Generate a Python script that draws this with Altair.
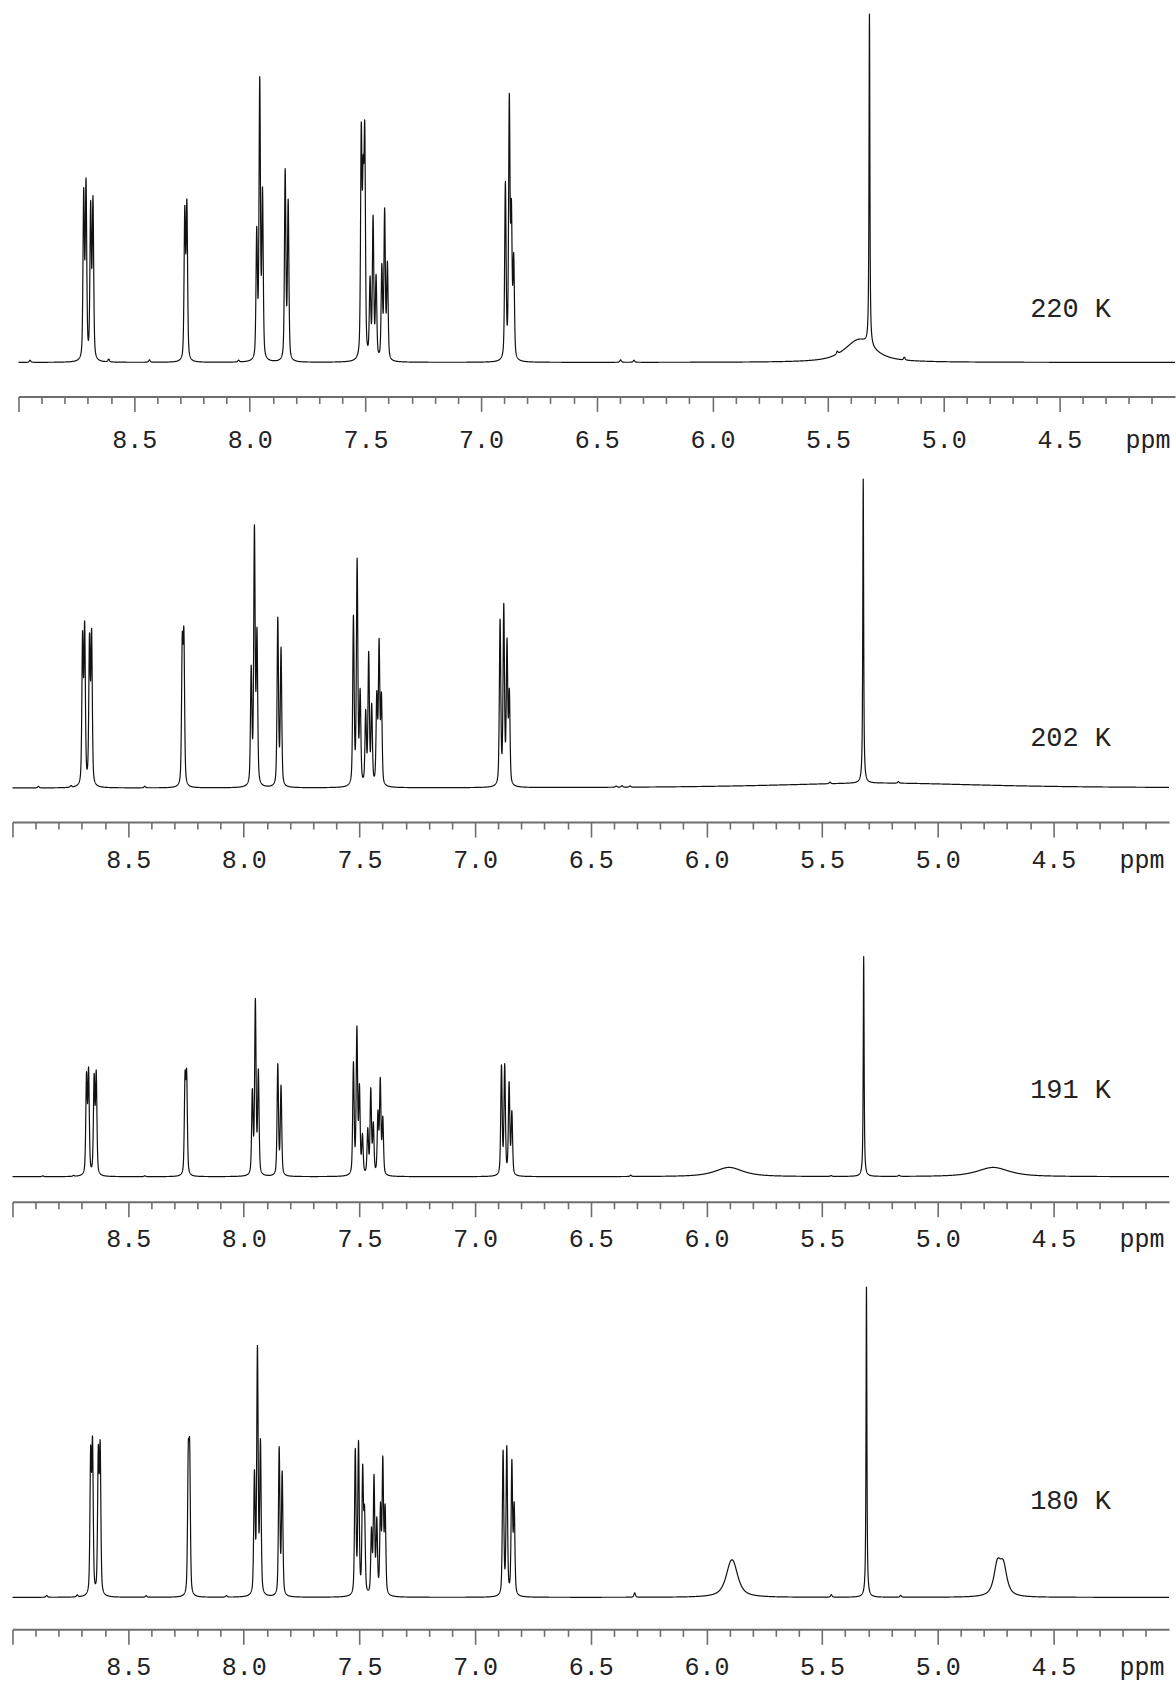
import altair as alt
import numpy as np
import pandas as pd

alt.data_transformers.disable_max_rows()

# ---------------------------------------------------------------------------
# Variable-temperature 1H NMR (CD2Cl2), 9.0 - 4.0 ppm window
# Intensities are relative to the tallest line, the residual CHDCl2 signal (= 100).
# ---------------------------------------------------------------------------
TEMPS = ["220 K", "202 K", "191 K", "180 K"]

# aromatic multiplet lines
arom_ppm_220 = [8.718, 8.708, 8.688, 8.678, 8.281, 8.272, 7.970, 7.957, 7.945, 7.847, 7.834,
                7.518, 7.510, 7.503, 7.480, 7.467, 7.454, 7.429, 7.417, 7.405,
                6.895, 6.878, 6.869, 6.859]
arom_int_220 = [47, 49.5, 43, 45, 42, 44, 36, 79, 47, 54, 45,
                63, 45, 61, 22, 40, 23, 26, 42, 27,
                50, 73, 40, 28]

arom_ppm_202 = [8.697, 8.688, 8.667, 8.658, 8.266, 8.259, 7.968, 7.954, 7.943, 7.853, 7.839,
                7.526, 7.510, 7.497, 7.473, 7.460, 7.447, 7.425, 7.415, 7.405,
                6.892, 6.876, 6.862, 6.852]
arom_int_202 = [47, 50, 46, 48, 44, 46, 37, 82, 48, 54, 44,
                54, 72, 29, 23, 42, 25, 28, 45, 28,
                53, 57, 45, 29]

arom_ppm_191 = [8.680, 8.671, 8.647, 8.638, 8.254, 8.247, 7.963, 7.950, 7.937, 7.853, 7.839,
                7.526, 7.511, 7.500, 7.487, 7.464, 7.451, 7.440, 7.420, 7.410, 7.399,
                6.886, 6.872, 6.853, 6.841]
arom_int_191 = [44, 46, 43, 45, 42, 43, 37, 78, 46, 50, 40,
                50, 65, 38, 17, 20, 38, 22, 27, 42, 25,
                49, 49, 41, 28]

arom_ppm_180 = [8.662, 8.654, 8.629, 8.621, 8.240, 8.234, 7.954, 7.941, 7.928, 7.847, 7.834,
                7.518, 7.504, 7.486, 7.478, 7.448, 7.437, 7.425, 7.409, 7.399, 7.389,
                6.879, 6.863, 6.841, 6.831]
arom_int_180 = [44, 47, 44, 46, 41, 42, 38, 78, 48, 47, 39,
                46, 48, 39, 25, 20, 37, 23, 27, 42, 27,
                46, 47, 42, 28]

# weak impurity lines
small_ppm_220 = [8.950, 8.610, 8.434, 8.048, 6.397, 6.339, 5.460, 5.170]
small_int_220 = [0.6, 0.8, 0.7, 0.5, 0.7, 0.6, 0.8, 0.8]
small_ppm_202 = [8.888, 8.747, 8.428, 6.390, 6.365, 6.330, 5.466, 5.170]
small_int_202 = [0.5, 0.5, 0.5, 0.4, 0.5, 0.4, 0.5, 0.5]
small_ppm_191 = [8.869, 8.736, 8.428, 6.327, 5.461, 5.167]
small_int_191 = [0.4, 0.4, 0.4, 0.6, 0.4, 0.5]
small_ppm_180 = [8.852, 8.720, 8.422, 8.075, 6.310, 5.460, 5.160]
small_int_180 = [0.6, 0.6, 0.5, 0.5, 1.4, 0.8, 0.6]

# residual solvent line: position and intensity of its own (broad humps add to the top)
solvent_ppm = [5.321, 5.322, 5.320, 5.308]
solvent_int = [95.0, 98.5, 99.6, 99.5]

# exchange-broadened signals: position, intensity, half width (ppm)
broad_ppm_220 = [5.365]
broad_int_220 = [6.5]
broad_hw_220 = [0.075]
broad_ppm_202 = [5.25]
broad_int_202 = [1.6]
broad_hw_202 = [0.55]
broad_ppm_191 = [5.902, 4.760]
broad_int_191 = [4.2, 4.2]
broad_hw_191 = [0.072, 0.083]
broad_ppm_180 = [5.897, 5.882, 4.742, 4.716]
broad_int_180 = [6.4, 6.6, 9.6, 9.0]
broad_hw_180 = [0.026, 0.026, 0.018, 0.018]

# axis ticks every 0.1 ppm; labelled every 0.5 ppm
PPM_LEFT, PPM_RIGHT = 9.0, 4.0
TICKS = [round(PPM_LEFT - 0.1 * i, 1) for i in range(50)]

FONT = "Liberation Mono"
TEXT = "#222222"
AXIS_GREY = "#6e6e6e"
STEP = 0.0005


def pseudo_voigt(x, x0, h, w, eta):
    d = ((x - x0) / w) ** 2
    return h * (eta / (1.0 + d) + (1.0 - eta) * np.exp(-np.log(2.0) * d))


def spectrum(arom, small, solvent, broad):
    n = int(round((PPM_LEFT - PPM_RIGHT) / STEP)) + 1
    x = np.round(PPM_RIGHT + STEP * np.arange(n), 4)
    y = np.zeros_like(x)
    for p, h in zip(*arom):
        y += pseudo_voigt(x, p, h, 0.0036, 0.45)
    for p, h in zip(*small):
        y += pseudo_voigt(x, p, h, 0.004, 0.5)
    y += pseudo_voigt(x, solvent[0], solvent[1], 0.0022, 0.8)
    for p, h, w in zip(*broad):
        y += pseudo_voigt(x, p, h, w, 0.8)
    return pd.DataFrame({"ppm": x, "intensity": np.round(y, 3)})


MAJOR_TEST = "abs(datum.value * 2 - round(datum.value * 2)) < 0.01"
MAJOR_TICK = 15


def make_axis(title_x, label_gap):
    return alt.Axis(
        values=TICKS,
        labelExpr=f"({MAJOR_TEST}) && datum.value < 8.95 ? format(datum.value, '.1f') : ''",
        tickSize={"condition": {"test": MAJOR_TEST, "value": MAJOR_TICK}, "value": 7},
        tickColor=AXIS_GREY,
        tickWidth=1.6,
        domainColor=AXIS_GREY,
        domainWidth=2,
        labelFont=FONT,
        labelFontSize=25,
        labelColor=TEXT,
        labelPadding=label_gap - MAJOR_TICK,
        labelBaseline="alphabetic",
        labelOverlap=False,
        labelSeparation=0,
        labelFlush=False,
        labelBound=False,
        grid=False,
        title="ppm",
        titleX=title_x,
        titleY=label_gap,
        titleAlign="right",
        titleBaseline="alphabetic",
        titleAngle=0,
        titleFont=FONT,
        titleFontSize=25,
        titleFontWeight="normal",
        titleColor=TEXT,
    )


PANEL_W = 1163.5


def panel(df, label, label_ppm, label_y, ydom, height, xrange, title_x, label_gap):
    xscale = alt.Scale(domain=[PPM_RIGHT, PPM_LEFT], range=xrange, nice=False, zero=False)
    yscale = alt.Scale(domain=ydom, nice=False, zero=False)
    axis = make_axis(title_x, label_gap)
    line = alt.Chart(df).mark_line(color="#111111", strokeWidth=1.2, strokeJoin="round").encode(
        x=alt.X("ppm:Q", scale=xscale, axis=axis),
        y=alt.Y("intensity:Q", scale=yscale, axis=None),
    )
    lab = pd.DataFrame({"ppm": [label_ppm], "intensity": [label_y], "label": [label]})
    text = alt.Chart(lab).mark_text(
        align="center", baseline="alphabetic", font=FONT, fontSize=27, color=TEXT
    ).encode(
        x=alt.X("ppm:Q", scale=xscale, axis=axis),
        y=alt.Y("intensity:Q", scale=yscale, axis=None),
        text="label:N",
    )
    return alt.layer(line, text).properties(width=PANEL_W, height=height)


spec220 = spectrum((arom_ppm_220, arom_int_220), (small_ppm_220, small_int_220),
                   (solvent_ppm[0], solvent_int[0]), (broad_ppm_220, broad_int_220, broad_hw_220))
spec202 = spectrum((arom_ppm_202, arom_int_202), (small_ppm_202, small_int_202),
                   (solvent_ppm[1], solvent_int[1]), (broad_ppm_202, broad_int_202, broad_hw_202))
spec191 = spectrum((arom_ppm_191, arom_int_191), (small_ppm_191, small_int_191),
                   (solvent_ppm[2], solvent_int[2]), (broad_ppm_191, broad_int_191, broad_hw_191))
spec180 = spectrum((arom_ppm_180, arom_int_180), (small_ppm_180, small_int_180),
                   (solvent_ppm[3], solvent_int[3]), (broad_ppm_180, broad_int_180, broad_hw_180))

p1 = panel(spec220, TEMPS[0], 4.4514, 12.9, [-9.742, 103.725], 396, [1163.5, 6.0], 1158.5, 51)
p2 = panel(spec202, TEMPS[1], 4.4255, 13.6, [-11.003, 126.86], 426, [1157.5, 0.0], 1152.5, 45)
p3 = panel(spec191, TEMPS[2], 4.4255, 35.6, [-11.312, 160.63], 380, [1157.5, 0.0], 1152.5, 45)
p4 = panel(spec180, TEMPS[3], 4.4255, 28.2, [-10.256, 126.92], 428, [1157.5, 0.0], 1152.5, 45)

chart = (
    alt.vconcat(p1, p2, p3, p4, spacing=0, bounds="flush")
    .properties(padding={"left": 11.5, "top": 0, "right": 0, "bottom": 56})
    .configure_view(stroke=None)
)

chart.save("out.html", embed_options={"renderer": "svg", "actions": False})
